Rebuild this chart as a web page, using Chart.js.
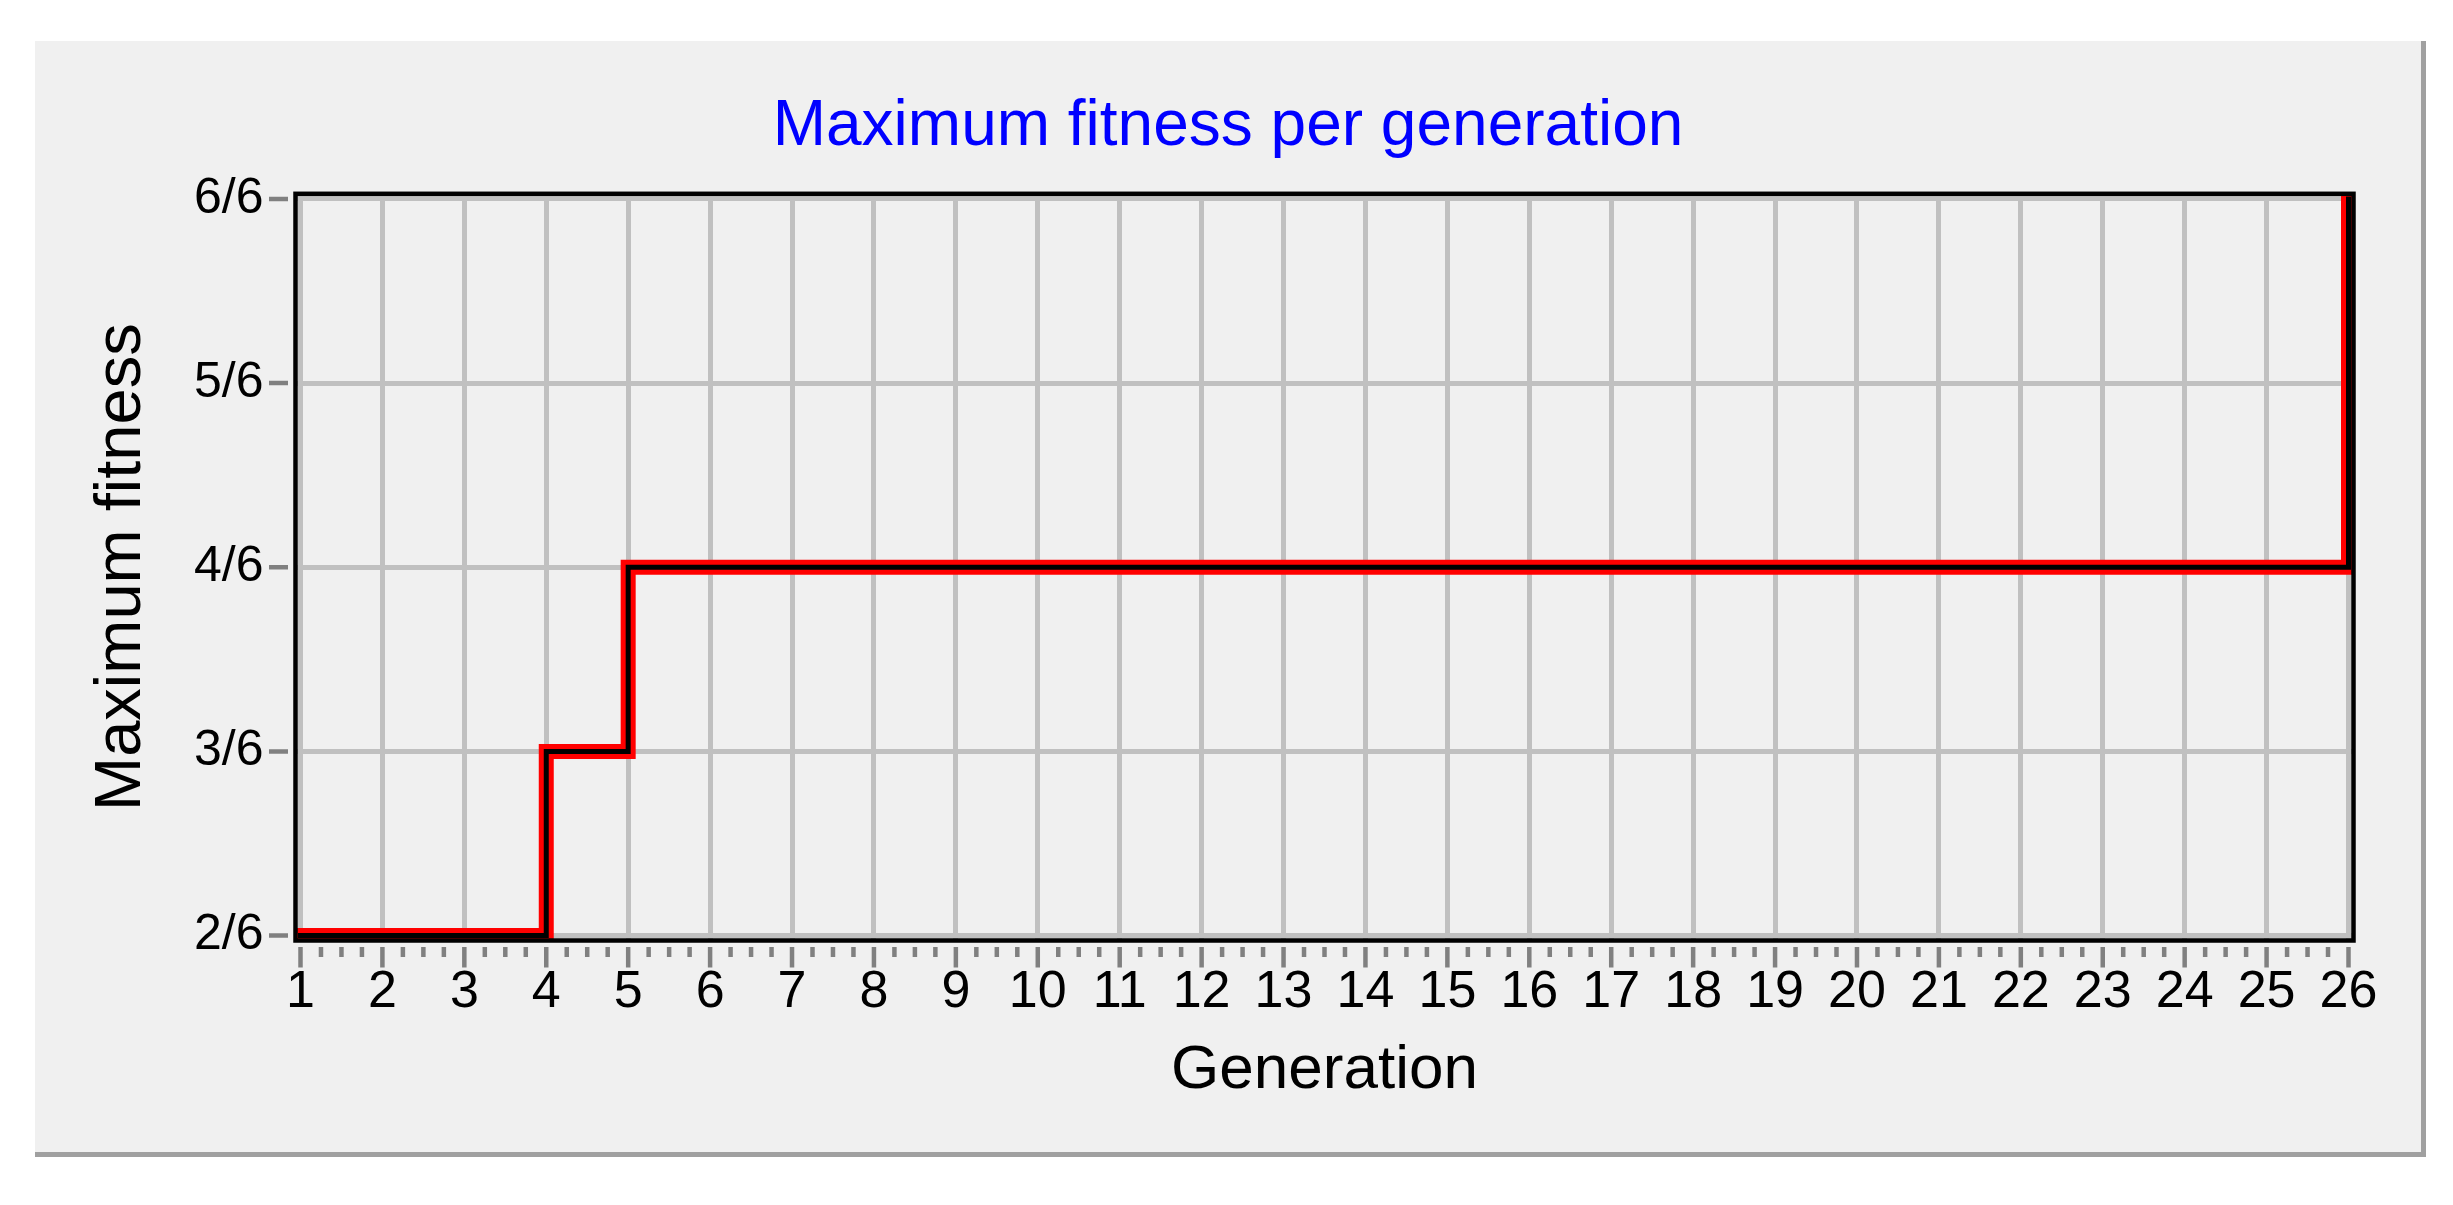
<!DOCTYPE html>
<html>
<head>
<meta charset="utf-8">
<title>Maximum fitness per generation</title>
<script src="https://cdn.jsdelivr.net/npm/chart.js@4.4.1/dist/chart.umd.min.js"></script>
<style>
  html, body { margin: 0; padding: 0; background: #ffffff; }
  #panel {
    position: absolute;
    left: 35px;
    top: 41px;
    width: 2386px;
    height: 1111px;
    background: #f0f0f0;
    border-right: 5px solid #a0a0a0;
    border-bottom: 5px solid #a0a0a0;
  }
  canvas { display: block; }
</style>
</head>
<body>
<div id="panel"><canvas id="chart" width="2386" height="1111"></canvas></div>
<script>
// x axis: generation number
const generations = [1, 2, 3, 4, 5, 6, 7, 8, 9, 10, 11, 12, 13, 14, 15, 16, 17, 18, 19, 20, 21, 22, 23, 24, 25, 26];
// best fitness reached in each generation, counted in sixths
const maxFitness = [2, 2, 2, 3, 4, 4, 4, 4, 4, 4, 4, 4, 4, 4, 4, 4, 4, 4, 4, 4, 4, 4, 4, 4, 4, 6];
const yTickValues = [2, 3, 4, 5, 6];
const yTickLabels = ['2/6', '3/6', '4/6', '5/6', '6/6'];
const xTickLabels = generations.map(String);

const FONT = '"Liberation Sans", Arial, sans-serif';

const points = generations.map((g, i) => ({ x: g, y: maxFitness[i] }));

// frame round the plot, drawn over the line like the original
const framePlugin = {
  id: 'frame',
  afterDatasetsDraw(chart) {
    const { ctx, chartArea } = chart;
    ctx.save();
    ctx.strokeStyle = '#000000';
    ctx.lineWidth = 4.5;
    ctx.strokeRect(chartArea.left, chartArea.top, chartArea.right - chartArea.left, chartArea.bottom - chartArea.top);
    ctx.restore();
  }
};

// tick marks sit a little away from the frame, with 3 minor ticks between generations
const tickMarksPlugin = {
  id: 'tickMarks',
  afterDraw(chart) {
    const { ctx, chartArea, scales } = chart;
    ctx.save();
    ctx.strokeStyle = '#808080';
    ctx.lineWidth = 4.5;
    ctx.beginPath();
    yTickValues.forEach(v => {
      const y = scales.y.getPixelForValue(v);
      ctx.moveTo(chartArea.left - 26.5, y);
      ctx.lineTo(chartArea.left - 7.5, y);
    });
    generations.forEach((g, i) => {
      const x = scales.x.getPixelForValue(g);
      ctx.moveTo(x, chartArea.bottom + 6.5);
      ctx.lineTo(x, chartArea.bottom + 27);
      if (i < generations.length - 1) {
        const step = (generations[i + 1] - g) / 4;
        for (let q = 1; q < 4; q++) {
          const xm = scales.x.getPixelForValue(g + step * q);
          ctx.moveTo(xm, chartArea.bottom + 6.5);
          ctx.lineTo(xm, chartArea.bottom + 16.5);
        }
      }
    });
    ctx.stroke();
    ctx.restore();
  }
};

const ctx = document.getElementById('chart').getContext('2d');
new Chart(ctx, {
  type: 'line',
  data: {
    datasets: [
      {
        label: 'Maximum fitness',
        data: points,
        yAxisID: 'y',
        borderColor: '#000000',
        borderWidth: 5,
        stepped: 'before',
        pointRadius: 0,
        fill: false,
        borderJoinStyle: 'miter',
        borderCapStyle: 'square',
        clip: 0
      },
      {
        label: 'Maximum fitness (outline)',
        data: points,
        yAxisID: 'y',
        borderColor: '#ff0000',
        borderWidth: 15,
        stepped: 'before',
        pointRadius: 0,
        fill: false,
        borderJoinStyle: 'miter',
        borderCapStyle: 'square',
        clip: 0
      }
    ]
  },
  plugins: [framePlugin, tickMarksPlugin],
  options: {
    responsive: false,
    devicePixelRatio: 1,
    animation: false,
    layout: { padding: 0 },
    plugins: {
      legend: { display: false },
      tooltip: { enabled: false },
      title: {
        display: true,
        text: 'Maximum fitness per generation',
        color: '#0000ff',
        font: { family: FONT, size: 64, weight: 'normal' },
        padding: { top: 48, bottom: 28 }
      }
    },
    scales: {
      x: {
        type: 'linear',
        min: 0.939,
        max: 26.061,
        afterFit: scale => { scale.height = 211.5; },
        afterBuildTicks: scale => { scale.ticks = generations.map(v => ({ value: v })); },
        ticks: {
          autoSkip: false,
          maxRotation: 0,
          padding: 21,
          color: '#000000',
          font: { family: FONT, size: 52 },
          callback: (value, index) => xTickLabels[index]
        },
        grid: { color: '#c0c0c0', lineWidth: 5, drawTicks: false },
        border: { display: false },
        title: {
          display: true,
          text: 'Generation',
          color: '#000000',
          font: { family: FONT, size: 62 },
          padding: { top: 0, bottom: 44 }
        }
      },
      y: {
        type: 'linear',
        position: 'left',
        min: 1.973,
        max: 6.028,
        afterFit: scale => { scale.width = 260.5; },
        afterBuildTicks: scale => { scale.ticks = yTickValues.map(v => ({ value: v })); },
        ticks: {
          padding: 32,
          color: '#000000',
          font: { family: FONT, size: 50 },
          callback: (value, index) => yTickLabels[index]
        },
        grid: { color: '#c0c0c0', lineWidth: 5, drawTicks: false },
        border: { display: false },
        title: {
          display: true,
          text: 'Maximum fitness',
          color: '#000000',
          font: { family: FONT, size: 65 },
          padding: { top: 48, bottom: 0 }
        }
      },
      // empty axis on the right: keeps the plot narrower while the title stays centred on the panel
      yRight: {
        type: 'linear',
        position: 'right',
        afterFit: scale => { scale.width = 67.5; },
        ticks: { display: false },
        grid: { display: false },
        border: { display: false }
      }
    }
  }
});
</script>
</body>
</html>
